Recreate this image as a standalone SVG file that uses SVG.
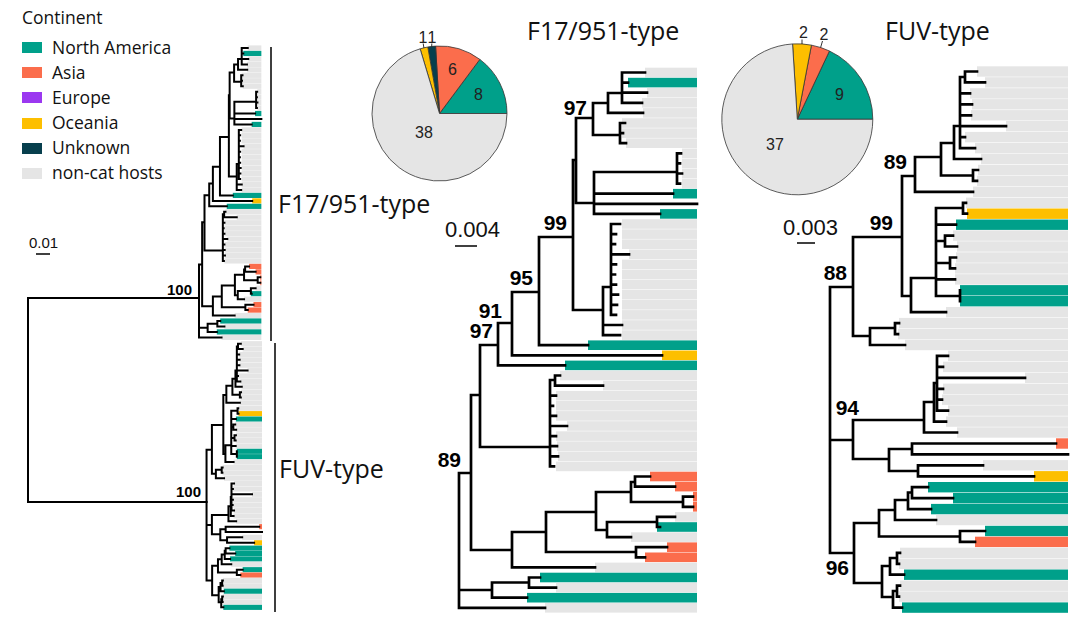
<svg xmlns="http://www.w3.org/2000/svg" width="1080" height="622" viewBox="0 0 1080 622">
<style>
.g{fill:#e5e5e5}.t{fill:#00a08a}.s{fill:#fb6d4c}.y{fill:#fdbf00}.u{fill:#073f4d}.p{fill:#9b38f0}
.br{fill:none;stroke:#000;stroke-linecap:square;vector-effect:non-scaling-stroke}
.ln{fill:none;stroke:#000}
.sl{stroke:#333;stroke-width:0.8}
.bs{font-family:"Liberation Sans",Arial,sans-serif;font-weight:bold;font-size:21px;fill:#000;text-anchor:end}
.bs2{font-family:"Liberation Sans",Arial,sans-serif;font-weight:bold;font-size:15px;fill:#000;text-anchor:end}
.ttl{font-family:"Open Sans","Noto Sans",sans-serif;font-size:25px;fill:#111}
.lg{font-family:"Open Sans","Noto Sans",sans-serif;font-size:17.5px;fill:#111}
.pn{font-family:"Liberation Sans",Arial,sans-serif;font-size:16px;fill:#222;text-anchor:middle}
.sc{font-family:"Liberation Sans",Arial,sans-serif;font-size:22px;fill:#111}
</style>
<defs>
<g id="treeF17">
<g id="f17-bars">
<rect class="g" x="645" y="67.7" width="52" height="9.6"/>
<rect class="t" x="628" y="77.8" width="69" height="9.6"/>
<rect class="g" x="647" y="87.9" width="50" height="9.6"/>
<rect class="g" x="642" y="98" width="55" height="9.6"/>
<rect class="g" x="643" y="108.1" width="54" height="9.6"/>
<rect class="g" x="622" y="118.2" width="75" height="9.6"/>
<rect class="g" x="622" y="128.3" width="75" height="9.6"/>
<rect class="g" x="626" y="138.4" width="71" height="9.6"/>
<rect class="g" x="682" y="148.5" width="15" height="9.6"/>
<rect class="g" x="682" y="158.6" width="15" height="9.6"/>
<rect class="g" x="682" y="168.7" width="15" height="9.6"/>
<rect class="g" x="682" y="178.8" width="15" height="9.6"/>
<rect class="t" x="673" y="188.9" width="24" height="9.6"/>
<rect class="t" x="660" y="209.1" width="37" height="9.6"/>
<rect class="g" x="622" y="219.2" width="75" height="9.6"/>
<rect class="g" x="622" y="229.3" width="75" height="9.6"/>
<rect class="g" x="622" y="239.4" width="75" height="9.6"/>
<rect class="g" x="629" y="249.5" width="68" height="9.6"/>
<rect class="g" x="622" y="259.6" width="75" height="9.6"/>
<rect class="g" x="622" y="269.7" width="75" height="9.6"/>
<rect class="g" x="622" y="279.8" width="75" height="9.6"/>
<rect class="g" x="622" y="289.9" width="75" height="9.6"/>
<rect class="g" x="622" y="300" width="75" height="9.6"/>
<rect class="g" x="622" y="310.1" width="75" height="9.6"/>
<rect class="g" x="622" y="320.2" width="75" height="9.6"/>
<rect class="g" x="622" y="330.3" width="75" height="9.6"/>
<rect class="t" x="588" y="340.4" width="109" height="9.6"/>
<rect class="y" x="662" y="350.5" width="35" height="9.6"/>
<rect class="t" x="565" y="360.6" width="132" height="9.6"/>
<rect class="g" x="560" y="370.7" width="137" height="9.6"/>
<rect class="g" x="603" y="380.8" width="94" height="9.6"/>
<rect class="g" x="556" y="390.9" width="141" height="9.6"/>
<rect class="g" x="556" y="401" width="141" height="9.6"/>
<rect class="g" x="556" y="411.1" width="141" height="9.6"/>
<rect class="g" x="567" y="421.2" width="130" height="9.6"/>
<rect class="g" x="556" y="431.3" width="141" height="9.6"/>
<rect class="g" x="557" y="441.4" width="140" height="9.6"/>
<rect class="g" x="558" y="451.5" width="139" height="9.6"/>
<rect class="g" x="556" y="461.6" width="141" height="9.6"/>
<rect class="s" x="650" y="471.7" width="47" height="9.6"/>
<rect class="s" x="675" y="481.8" width="22" height="9.6"/>
<rect class="s" x="693" y="491.9" width="4" height="9.6"/>
<rect class="s" x="693" y="502" width="4" height="9.6"/>
<rect class="g" x="675" y="512.1" width="22" height="9.6"/>
<rect class="t" x="657" y="522.2" width="40" height="9.6"/>
<rect class="g" x="631" y="532.3" width="66" height="9.6"/>
<rect class="s" x="667" y="542.4" width="30" height="9.6"/>
<rect class="s" x="645" y="552.5" width="52" height="9.6"/>
<rect class="g" x="595" y="562.6" width="102" height="9.6"/>
<rect class="t" x="540" y="572.7" width="157" height="9.6"/>
<rect class="g" x="556" y="582.8" width="141" height="9.6"/>
<rect class="t" x="527" y="592.9" width="170" height="9.6"/>
<rect class="g" x="545" y="603" width="152" height="9.6"/>
</g>
<path class="br" d="M459,473V607.8M459,473H471M459,590H492M459,607.8H545M471,395V550M471,395H480M471,550H512M480,345V447M480,345H498M480,447H550M498,323V365.4M498,323H512M498,365.4H565M512,292V355.3M512,292H539M512,355.3H662M539,237V345.2M539,237H573M539,345.2H588M573,160V310M573,160H576M573,310H603M576,118V203M576,118H593M576,203H594M593,103V135M593,103H608M593,135H620M608,93V112.9M608,93H622M608,112.9H643M622,72.5V102.8M622,72.5H645M622,82.6H628M622,92.7H647M622,102.8H642M620,123V143.2M620,123H625M620,133.1H623M620,143.2H626M594,172V213.9M594,172H677M594,193.7H673M594,203.8H697M594,213.9H660M677,153.3V183.6M677,153.3H681M677,163.4H680M677,173.5H682M677,183.6H680M603,287V335.1M603,287H611M603,325H622M603,335.1H620M611,224V314.9M611,224H620M611,234.1H616M611,244.2H615M611,254.3H629M611,264.4H616M611,274.5H615M611,284.6H616M611,294.7H618M611,304.8H617M611,314.9H616M550,380V466.4M550,380H555M555,375.5V385.6M555,375.5H560M555,385.6H603M550,395.7H556M550,405.8H553M550,415.9H556M550,426H567M550,436.1H556M550,446.2H557M550,456.3H558M550,466.4H554M512,532V567.4M512,532H546M512,567.4H595M546,512V552M546,512H596M546,552H636M596,492V530M596,492H631M596,530H607M631,482V502M631,482H635M631,502H683M635,476.5V486.6M635,476.5H650M635,486.6H675M683,496.7V506.8M683,496.7H693M683,506.8H693M607,522V537.1M607,522H657M607,537.1H631M657,516.9V527M657,516.9H675M657,527H660M636,547.2V557.3M636,547.2H667M636,557.3H645M492,582.5V597.7M492,582.5H529M492,597.7H527M529,577.5V587.6M529,577.5H540M529,587.6H556"/>
</g>
<g id="treeFUV">
<g id="fuv-bars">
<rect class="g" x="977" y="66.3" width="91" height="10.4"/>
<rect class="g" x="985" y="77.2" width="83" height="10.4"/>
<rect class="g" x="970" y="88.2" width="98" height="10.4"/>
<rect class="g" x="972" y="99.1" width="96" height="10.4"/>
<rect class="g" x="971" y="110.1" width="97" height="10.4"/>
<rect class="g" x="1006" y="121" width="62" height="10.4"/>
<rect class="g" x="965" y="131.9" width="103" height="10.4"/>
<rect class="g" x="975" y="142.9" width="93" height="10.4"/>
<rect class="g" x="981" y="153.8" width="87" height="10.4"/>
<rect class="g" x="978" y="164.8" width="90" height="10.4"/>
<rect class="g" x="977" y="175.7" width="91" height="10.4"/>
<rect class="g" x="973" y="186.6" width="95" height="10.4"/>
<rect class="g" x="966" y="197.6" width="102" height="10.4"/>
<rect class="y" x="967" y="208.5" width="101" height="10.4"/>
<rect class="t" x="956" y="219.5" width="112" height="10.4"/>
<rect class="g" x="953" y="230.4" width="115" height="10.4"/>
<rect class="g" x="957" y="241.3" width="111" height="10.4"/>
<rect class="g" x="956" y="252.3" width="112" height="10.4"/>
<rect class="g" x="955" y="263.2" width="113" height="10.4"/>
<rect class="g" x="955" y="274.2" width="113" height="10.4"/>
<rect class="t" x="960" y="285.1" width="108" height="10.4"/>
<rect class="t" x="960" y="296" width="108" height="10.4"/>
<rect class="g" x="946" y="307" width="122" height="10.4"/>
<rect class="g" x="899" y="317.9" width="169" height="10.4"/>
<rect class="g" x="898" y="328.9" width="170" height="10.4"/>
<rect class="g" x="905" y="339.8" width="163" height="10.4"/>
<rect class="g" x="948" y="350.7" width="120" height="10.4"/>
<rect class="g" x="943" y="361.7" width="125" height="10.4"/>
<rect class="g" x="1025" y="372.6" width="43" height="10.4"/>
<rect class="g" x="943" y="383.6" width="125" height="10.4"/>
<rect class="g" x="942" y="394.5" width="126" height="10.4"/>
<rect class="g" x="948" y="405.4" width="120" height="10.4"/>
<rect class="g" x="946" y="416.4" width="122" height="10.4"/>
<rect class="g" x="957" y="427.3" width="111" height="10.4"/>
<rect class="s" x="1056" y="438.3" width="12" height="10.4"/>
<rect class="g" x="983" y="460.1" width="85" height="10.4"/>
<rect class="y" x="1034" y="471.1" width="34" height="10.4"/>
<rect class="t" x="928" y="482" width="140" height="10.4"/>
<rect class="t" x="953" y="493" width="115" height="10.4"/>
<rect class="t" x="931" y="503.9" width="137" height="10.4"/>
<rect class="g" x="936" y="514.8" width="132" height="10.4"/>
<rect class="t" x="985" y="525.8" width="83" height="10.4"/>
<rect class="s" x="975" y="536.7" width="93" height="10.4"/>
<rect class="g" x="900" y="547.7" width="168" height="10.4"/>
<rect class="g" x="899" y="558.6" width="169" height="10.4"/>
<rect class="t" x="904" y="569.5" width="164" height="10.4"/>
<rect class="g" x="900" y="580.5" width="168" height="10.4"/>
<rect class="g" x="899" y="591.4" width="169" height="10.4"/>
<rect class="t" x="902" y="602.4" width="166" height="10.4"/>
</g>
<path class="br" d="M830,287V553M830,287H853M830,440H853M830,553H854M853,237V336M853,237H902M853,336H870M902,176V296M902,176H915M902,296H911M915,157V191.8M915,157H941M915,191.8H973M941,143V175.5M941,143H954M941,175.5H973M973,170V180.9M973,170H978M973,180.9H977M954,126V159M954,126H960M954,159H981M960,77V148.1M960,77H965M960,93.4H970M960,104.3H972M960,115.3H971M960,126.2H1006M960,137.1H965M960,148.1H975M965,71.5V82.4M965,71.5H977M965,82.4H985M911,278V312.2M911,278H936M911,312.2H946M936,208V296M936,208H963M936,224.7H956M936,241H945M936,263H950M936,279.4H955M936,296H960M963,202.8V213.7M963,202.8H966M963,213.7H967M945,235.6V246.5M945,235.6H953M945,246.5H957M950,257.5V268.4M950,257.5H956M950,268.4H955M960,290.3V301.2M870,328V345M870,328H895M870,345H905M895,323.1V334.1M895,323.1H899M895,334.1H898M853,420V459M853,420H924M853,459H889M924,402V432.5M924,402H934M924,432.5H957M934,383V421.6M934,383H937M934,421.6H946M937,355.9V410.6M937,355.9H948M937,366.9H943M937,377.8H1025M937,388.8H943M937,399.7H942M937,410.6H948M889,449V471M889,449H912M889,471H918M912,443.5V454.4M912,443.5H1056M912,454.4H1068M918,465.3V476.3M918,465.3H983M918,476.3H1034M854,523V583M854,523H879M854,583H882M879,510V536.5M879,510H895M879,536.5H960M895,500V520M895,500H908M895,520H936M908,492.5V509.1M908,492.5H912M908,509.1H931M912,487.2V498.2M912,487.2H928M912,498.2H953M960,531V541.9M960,531H985M960,541.9H975M882,566V597M882,566H890M882,597H893M890,558V574.7M890,558H897M890,574.7H904M897,552.9V563.8M897,552.9H900M897,563.8H899M893,591V607.6M893,591H897M893,607.6H902M897,585.7V596.6M897,585.7H900M897,596.6H899"/>
</g>
</defs>

<g id="legend">
<text class="lg" x="22" y="24">Continent</text>
<rect class="t" x="22" y="42" width="20" height="11"/>
<text class="lg" x="52" y="54">North America</text>
<rect class="s" x="22" y="67" width="20" height="11"/>
<text class="lg" x="52" y="79">Asia</text>
<rect class="p" x="22" y="92" width="20" height="11"/>
<text class="lg" x="52" y="104">Europe</text>
<rect class="y" x="22" y="118" width="20" height="11"/>
<text class="lg" x="52" y="129">Oceania</text>
<rect class="u" x="22" y="143" width="20" height="11"/>
<text class="lg" x="52" y="154">Unknown</text>
<rect class="g" x="22" y="168" width="20" height="11"/>
<text class="lg" x="52" y="179">non-cat hosts</text>
</g>

<g id="left-tree">
<use href="#treeF17" transform="matrix(0.262 0 0 0.5406 78.74 8.81)" stroke-width="2"/>
<use href="#treeFUV" transform="matrix(0.233 0 0 0.4918 13.16 308.54)" stroke-width="2"/>
<path class="ln" stroke-width="2" stroke-linecap="square" d="M28,298V502M28,298H199M28,502H206.6"/>
<text class="bs2" x="192" y="295">100</text>
<text class="bs2" x="201" y="497">100</text>
<path class="ln" stroke-width="1.5" d="M271,47V341M275,343V612"/>
<text class="ttl" x="278" y="213">F17/951-type</text>
<text class="ttl" x="279" y="478">FUV-type</text>
<text x="29" y="248" font-family="Liberation Sans, Arial, sans-serif" font-size="15" fill="#111">0.01</text>
<path class="ln" stroke-width="1.5" d="M36,254H50"/>
</g>

<g id="pie-f17">
<path class="t sl" d="M439.5,113.5L507,113.5A67.5,67.5 0 0 0 479.84,59.38Z"/>
<path class="s sl" d="M439.5,113.5L479.84,59.38A67.5,67.5 0 0 0 435.58,46.11Z"/>
<path class="u sl" d="M439.5,113.5L435.58,46.11A67.5,67.5 0 0 0 427.78,47.02Z"/>
<path class="y sl" d="M439.5,113.5L427.78,47.02A67.5,67.5 0 0 0 420.14,48.84Z"/>
<path class="g sl" d="M439.5,113.5L420.14,48.84A67.5,67.5 0 1 0 507,113.5Z"/>
<path class="ln" stroke-width="0.8" d="M423.9,47.8L423.2,43.5M431.7,46.5L431.8,43.5"/>
<text class="pn" x="423" y="42.5">1</text>
<text class="pn" x="432" y="42.5">1</text>
<text class="pn" x="452.5" y="75">6</text>
<text class="pn" x="478.5" y="100" fill="#fff">8</text>
<text class="pn" x="424" y="138">38</text>
</g>

<g id="pie-fuv">
<path class="t sl" d="M797.3,119.3L872.8,119.3A75.5,75.5 0 0 0 829.45,50.99Z"/>
<path class="s sl" d="M797.3,119.3L829.45,50.99A75.5,75.5 0 0 0 811.45,45.14Z"/>
<path class="y sl" d="M797.3,119.3L811.45,45.14A75.5,75.5 0 0 0 792.56,43.95Z"/>
<path class="g sl" d="M797.3,119.3L792.56,43.95A75.5,75.5 0 1 0 872.8,119.3Z"/>
<path class="ln" stroke-width="0.8" d="M802,44L802,39.5M820.6,47.5L822.5,41"/>
<text class="pn" x="803.5" y="38">2</text>
<text class="pn" x="824" y="40">2</text>
<text class="pn" x="839.5" y="100" fill="#fff">9</text>
<text class="pn" x="775" y="150">37</text>
</g>

<g id="middle-tree">
<use href="#treeF17" stroke-width="2.7"/>
<text class="ttl" x="527" y="40">F17/951-type</text>
<text class="sc" x="445" y="237">0.004</text>
<path class="ln" stroke-width="1.5" d="M455,246H477"/>
<text class="bs" x="587" y="115">97</text>
<text class="bs" x="567" y="230">99</text>
<text class="bs" x="533" y="285">95</text>
<text class="bs" x="502" y="318">91</text>
<text class="bs" x="493" y="338">97</text>
<text class="bs" x="461" y="467">89</text>
</g>

<g id="right-tree">
<use href="#treeFUV" stroke-width="2.7"/>
<text class="ttl" x="885" y="40">FUV-type</text>
<text class="sc" x="783" y="235">0.003</text>
<path class="ln" stroke-width="1.5" d="M797,243H815"/>
<text class="bs" x="907" y="169">89</text>
<text class="bs" x="893" y="230">99</text>
<text class="bs" x="847" y="280">88</text>
<text class="bs" x="859" y="415">94</text>
<text class="bs" x="849" y="575">96</text>
</g>
</svg>
